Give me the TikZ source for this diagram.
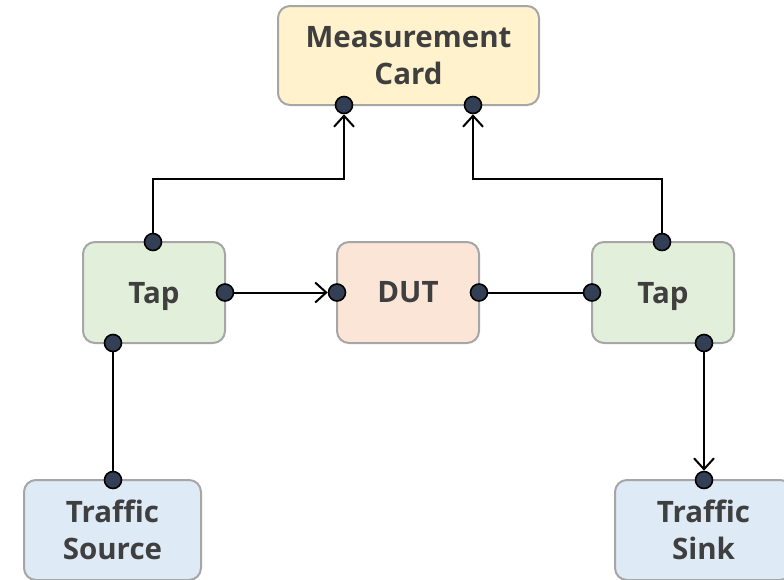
\documentclass[tikz,border=0pt]{standalone}
\usepackage{fontspec}
\setmainfont{Open Sans}
\usetikzlibrary{arrows.meta}
\pgfdeclarelayer{ports}
\pgfsetlayers{main,ports}
\definecolor{boxline}{HTML}{A6A6A6}
\definecolor{txt}{HTML}{3F3F3F}
\definecolor{cardfill}{HTML}{FFF2CC}
\definecolor{tapfill}{HTML}{E2EFDA}
\definecolor{dutfill}{HTML}{FBE5D6}
\definecolor{endfill}{HTML}{DEEAF6}
\definecolor{portfill}{HTML}{333F55}
\tikzset{
  box/.style={draw=boxline, line width=2pt, rounded corners=12pt,
    text=txt, font=\fontsize{29.5}{37.5}\selectfont\bfseries, align=center,
    inner sep=0pt},
  port/.style={circle, draw=black, fill=portfill, line width=1.6pt,
    minimum size=17pt, inner sep=0pt},
  link/.style={draw=black, line width=2pt},
  flow/.style={link, -{Straight Barb[length=11pt,width=20pt,line width=2pt]}},
}
\begin{document}
\begin{tikzpicture}[x=1pt,y=-1pt]
\useasboundingbox (0,0) rectangle (784,579);
% devices
\node[box, fill=cardfill, minimum width=261pt, minimum height=99pt] (card) at (408.5,55.5) {Measurement\\Card};
\node[box, fill=tapfill, minimum width=142pt, minimum height=101pt, text depth=0pt] (tapL) at (154,292.5) {Tap};
\node[box, fill=dutfill, minimum width=142pt, minimum height=101pt] (dut) at (408,292.5) {DUT};
\node[box, fill=tapfill, minimum width=142pt, minimum height=101pt, text depth=0pt] (tapR) at (663,292.5) {Tap};
\node[box, fill=endfill, minimum width=177pt, minimum height=100pt] (src) at (112.5,530) {Traffic\\Source};
\node[box, fill=endfill, minimum width=177pt, minimum height=100pt] (sink) at (703.5,530) {Traffic\\Sink};
% connection points
\begin{pgfonlayer}{ports}
\node[port] (cardA) at (344,105) {};
\node[port] (cardB) at (473,105) {};
\node[port] (tapLtop) at (153,242) {};
\node[port] (tapLright) at (225,292.5) {};
\node[port] (tapLbot) at (113,343) {};
\node[port] (dutL) at (337,292.5) {};
\node[port] (dutR) at (479,292.5) {};
\node[port] (tapRtop) at (662,242) {};
\node[port] (tapRleft) at (592,292.5) {};
\node[port] (tapRbot) at (704,343) {};
\node[port] (srcTop) at (113,480) {};
\node[port] (sinkTop) at (704,480) {};
\end{pgfonlayer}
% links
\coordinate (elbowL1) at (153,179);
\coordinate (elbowL2) at (344,179);
\coordinate (elbowR1) at (662,179);
\coordinate (elbowR2) at (473,179);
\draw[flow] (tapLtop.center) -- (elbowL1) -- (elbowL2) -- (cardA);
\draw[flow] (tapRtop.center) -- (elbowR1) -- (elbowR2) -- (cardB);
\draw[flow] (tapLright) -- (dutL);
\draw[link] (dutR) -- (tapRleft);
\draw[link] (srcTop) -- (tapLbot);
\draw[flow] (tapRbot) -- (sinkTop);
\end{tikzpicture}
\end{document}
